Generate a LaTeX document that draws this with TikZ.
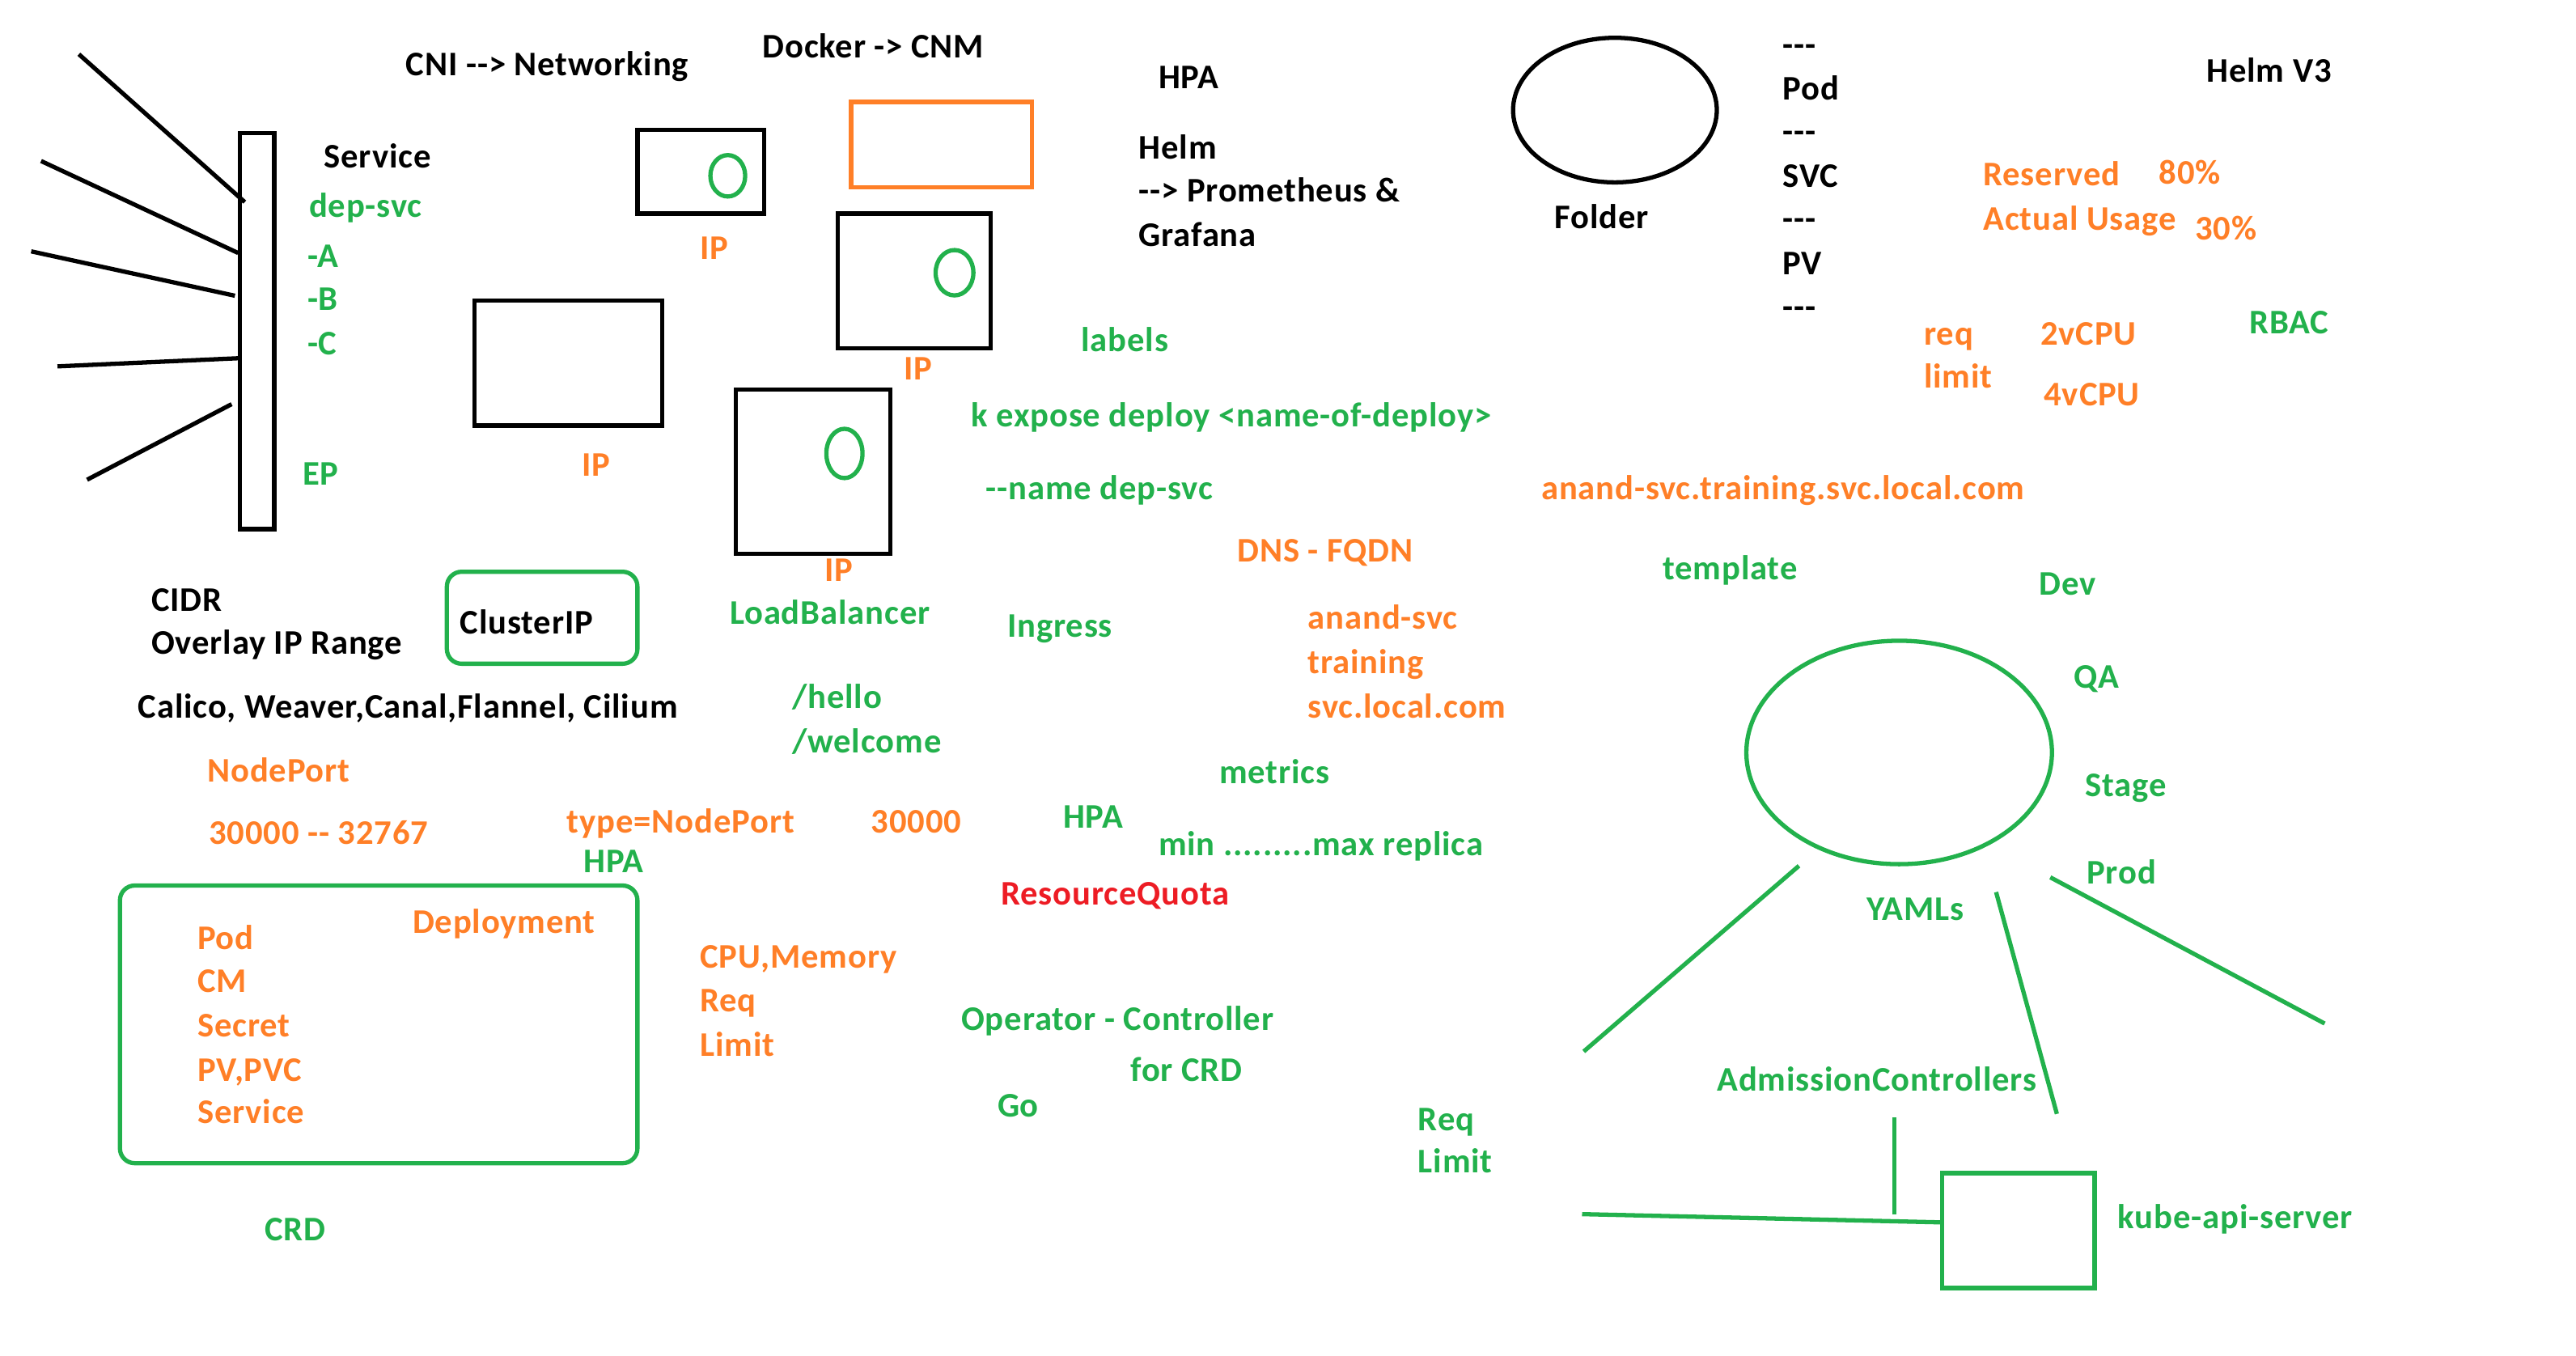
\documentclass[tikz,border=0pt]{standalone}
\usepackage{fontspec}
\setmainfont{Carlito}[Ligatures=TeXOff, LetterSpace=2]
\definecolor{pgreen}{RGB}{34,177,76}
\definecolor{porange}{RGB}{255,127,39}
\definecolor{pred}{RGB}{237,28,36}
\tikzset{
  txt/.style={anchor=base west, inner sep=0pt, font=\fontsize{21}{24}\selectfont\bfseries},
  gt/.style={txt, text=pgreen},
  ot/.style={txt, text=porange},
  kt/.style={txt, text=black},
  rt/.style={txt, text=pred},
  kstroke/.style={draw=black, line width=2.6pt},
  gstroke/.style={draw=pgreen, line width=2.6pt},
  ostroke/.style={draw=porange, line width=2.6pt},
}
\begin{document}
\begin{tikzpicture}[x=1pt,y=-1pt]
\useasboundingbox[fill=white] (0,0) rectangle (1568,825);

% ---- fan lines and service bar ----
\coordinate (f1a) at (48,33);  \coordinate (f1b) at (149,123);
\coordinate (f2a) at (25,98);  \coordinate (f2b) at (145,154);
\coordinate (f3a) at (19,153); \coordinate (f3b) at (143,180);
\coordinate (f4a) at (35,223); \coordinate (f4b) at (146,218);
\coordinate (f5a) at (53,292); \coordinate (f5b) at (141,246);
\draw[kstroke] (f1a) -- (f1b);
\draw[kstroke] (f2a) -- (f2b);
\draw[kstroke] (f3a) -- (f3b);
\draw[kstroke] (f4a) -- (f4b);
\draw[kstroke] (f5a) -- (f5b);
\draw[kstroke] (146,81) rectangle (167,322);

% ---- pod boxes ----
\draw[kstroke] (388,79) rectangle (465,130);
\draw[gstroke] (443,107) ellipse [x radius=10.6pt, y radius=12.6pt];
\draw[ostroke] (518,62) rectangle (628,114);
\draw[kstroke] (510,130) rectangle (603,212);
\draw[gstroke] (581,166) ellipse [x radius=11.5pt, y radius=13.8pt];
\draw[kstroke] (289,183) rectangle (403,259);
\draw[kstroke] (448,237) rectangle (542,337);
\draw[gstroke] (514,276) ellipse [x radius=11pt, y radius=15pt];

% ---- rounded boxes ----
\draw[gstroke, rounded corners=9pt] (272,348) rectangle (388,404);
\draw[gstroke, rounded corners=9pt] (73,539) rectangle (388,708);

% ---- folder ellipse ----
\draw[kstroke] (983,67) ellipse [x radius=62pt, y radius=44pt];

% ---- YAMLs ----
\draw[gstroke] (1156,458) ellipse [x radius=93pt, y radius=68pt];
\coordinate (ya1) at (1095,527); \coordinate (ya2) at (964,640);
\coordinate (yb1) at (1215,543); \coordinate (yb2) at (1252,678);
\coordinate (yc1) at (1248,534); \coordinate (yc2) at (1415,623);
\draw[gstroke] (ya1) -- (ya2);
\draw[gstroke] (yb1) -- (yb2);
\draw[gstroke] (yc1) -- (yc2);
\coordinate (adm) at (1153,680); \coordinate (admb) at (1153,739);
\coordinate (hl) at (963,739); \coordinate (hr) at (1181,744);
\draw[gstroke] (adm) -- (admb);
\draw[gstroke] (hl) -- (hr);
\draw[gstroke] (1182,714) rectangle (1275,784);

% ---- texts, black ----
\node[kt] (cni) at (247,46) {CNI --> Networking};
\node[kt] (docker) at (464,35) {Docker -> CNM};
\node[kt] (hpa1) at (705,54) {HPA};
\node[kt] (helm) at (693,97) {Helm};
\node[kt] (prom) at (693,123) {--> Prometheus \&};
\node[kt] (graf) at (693,150) {Grafana};
\node[kt] (folder) at (946,139) {Folder};
\node[kt] (d1) at (1085,34) {---};
\node[kt] (pod) at (1085,61) {Pod};
\node[kt] (d2) at (1085,87) {---};
\node[kt] (svc) at (1085,114) {SVC};
\node[kt] (d3) at (1085,140) {---};
\node[kt] (pv) at (1085,167) {PV};
\node[kt] (d4) at (1085,194) {---};
\node[kt] (helmv3) at (1343,50) {Helm V3};
\node[kt] (service) at (197,102) {Service};
\node[kt] (cidr) at (92,372) {CIDR};
\node[kt] (overlay) at (92,398) {Overlay IP Range};
\node[kt] (clusterip) at (280,386) {ClusterIP};
\node[kt] (calico) at (84,437) {Calico, Weaver,Canal,Flannel, Cilium};

% ---- texts, green ----
\node[gt] (depsvc) at (188,132) {dep-svc};
\node[gt] (a) at (187,163) {-A};
\node[gt] (b) at (187,189) {-B};
\node[gt] (c) at (187,216) {-C};
\node[gt] (ep) at (184,295) {EP};
\node[gt] (lb) at (444,380) {LoadBalancer};
\node[gt] (hpa2) at (355,531) {HPA};
\node[gt] (crd) at (161,755) {CRD};
\node[gt] (hello) at (482,431) {/hello};
\node[gt] (welcome) at (482,458) {/welcome};
\node[gt] (ingress) at (613,388) {Ingress};
\node[gt] (labels) at (658,214) {labels};
\node[gt] (kexpose) at (591,260) {k expose deploy <name-of-deploy>};
\node[gt] (name) at (600,304) {--name dep-svc};
\node[gt] (metrics) at (742,477) {metrics};
\node[gt] (hpa3) at (647,504) {HPA};
\node[gt] (minmax) at (705,521) {min .........max replica};
\node[gt] (operator) at (585,627) {Operator - Controller};
\node[gt] (forcrd) at (688,658) {for CRD};
\node[gt] (go) at (607,680) {Go};
\node[gt] (req2) at (863,688) {Req};
\node[gt] (limit2) at (863,714) {Limit};
\node[gt] (template) at (1012,353) {template};
\node[gt] (dev) at (1241,362) {Dev};
\node[gt] (qa) at (1262,419) {QA};
\node[gt] (stage) at (1269,485) {Stage};
\node[gt] (prod) at (1270,538) {Prod};
\node[gt] (yamls) at (1136,560) {YAMLs};
\node[gt] (admission) at (1045,664) {AdmissionControllers};
\node[gt] (kube) at (1289,748) {kube-api-server};
\node[gt] (rbac) at (1369,203) {RBAC};

% ---- texts, orange ----
\node[ot] (ip1) at (426,158) {IP};
\node[ot] (ip2) at (550,231) {IP};
\node[ot] (ip3) at (354,290) {IP};
\node[ot] (ip4) at (502,354) {IP};
\node[ot] (nodeport) at (126,476) {NodePort};
\node[ot] (range) at (127,514) {30000 -- 32767};
\node[ot] (type) at (345,507) {type=NodePort};
\node[ot] (p30000) at (530,507) {30000};
\node[ot] (deployment) at (251,568) {Deployment};
\node[ot] (dpod) at (120,578) {Pod};
\node[ot] (dcm) at (120,604) {CM};
\node[ot] (dsecret) at (120,631) {Secret};
\node[ot] (dpv) at (120,658) {PV,PVC};
\node[ot] (dservice) at (120,684) {Service};
\node[ot] (cpu) at (426,589) {CPU,Memory};
\node[ot] (req1) at (426,616) {Req};
\node[ot] (limit1) at (426,643) {Limit};
\node[ot] (dns) at (753,342) {DNS - FQDN};
\node[ot] (anand) at (796,383) {anand-svc};
\node[ot] (training) at (796,410) {training};
\node[ot] (svclocal) at (796,437) {svc.local.com};
\node[ot] (fqdn) at (938,304) {anand-svc.training.svc.local.com};
\node[ot] (reserved) at (1207,113) {Reserved};
\node[ot] (p80) at (1314,112) {80\%};
\node[ot] (actual) at (1207,140) {Actual Usage};
\node[ot] (p30) at (1336,146) {30\%};
\node[ot] (req3) at (1171,210) {req};
\node[ot] (limit3) at (1171,236) {limit};
\node[ot] (cpu2) at (1242,210) {2vCPU};
\node[ot] (cpu4) at (1244,247) {4vCPU};

% ---- text, red ----
\node[rt] (quota) at (609,551) {ResourceQuota};
\end{tikzpicture}
\end{document}
